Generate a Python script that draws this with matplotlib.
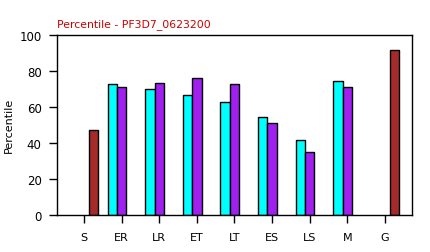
import matplotlib
matplotlib.use("Agg")
import matplotlib.pyplot as plt
import numpy as np

categories = ["S", "ER", "LR", "ET", "LT", "ES", "LS", "M", "G"]
cyan_vals = [np.nan, 72.4, 69.8, 66.5, 62.5, 54.1, 41.3, 74.2, np.nan]
purple_vals = [np.nan, 70.8, 73.0, 75.9, 72.4, 50.8, 34.7, 70.8, np.nan]
brown_vals = [46.9, np.nan, np.nan, np.nan, np.nan, np.nan, np.nan, np.nan, 91.4]
yticks = [0, 20, 40, 60, 80, 100]

plt.rcParams['font.family'] = ['DejaVu Sans']
fig = plt.figure(figsize=(4.31, 2.53), dpi=100)
ax = fig.add_axes([57/431, 1-215.7/253, (412-57)/431, (215.7-35.7)/253])

x = np.arange(len(categories))
w = 0.25
kw = dict(width=w, edgecolor='black', linewidth=1.0)
ax.bar(x - w, cyan_vals, color='#00ffff', **kw)
ax.bar(x, purple_vals, color='#a020f0', **kw)
ax.bar(x + w, brown_vals, color='#a52a2a', **kw)

ax.set_xlim(-0.72, len(categories) - 1 + 0.72)
ax.set_ylim(0, 100)
ax.set_xticks(x)
ax.set_xticklabels(categories, fontsize=8)
ax.set_yticks(yticks)
ax.set_yticklabels([str(v) for v in yticks], fontsize=8.5)
ax.tick_params(axis='both', length=6, width=1, pad=5)
ax.tick_params(axis='x', pad=6.5)
for s in ax.spines.values():
    s.set_linewidth(1)
ax.set_ylabel("Percentile", fontsize=8, labelpad=4)
ax.set_title("Percentile - PF3D7_0623200", loc='left', color='#cc0000', fontsize=7.8, pad=6)

fig.savefig("out.png", dpi=100)
